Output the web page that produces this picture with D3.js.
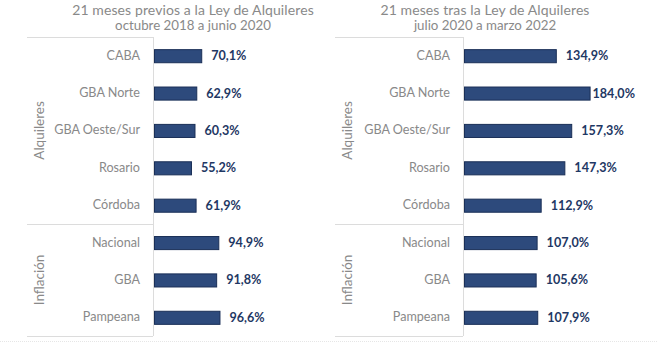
<!DOCTYPE html>
<html>
<head>
<meta charset="utf-8">
<script src="https://cdn.jsdelivr.net/npm/d3@7"></script>
<style>
  html, body { margin: 0; padding: 0; background: #ffffff; }
  svg { display: block; }
  text { font-family: Lato, "Open Sans", sans-serif; }
</style>
</head>
<body>
<svg id="chart" width="658" height="342"></svg>
<script>
const categories = ["CABA", "GBA Norte", "GBA Oeste/Sur", "Rosario", "Córdoba", "Nacional", "GBA", "Pampeana"];
const groupNames = ["Alquileres", "Inflación"];
const groupOfCategory = ["Alquileres", "Alquileres", "Alquileres", "Alquileres", "Alquileres", "Inflación", "Inflación", "Inflación"];
const valuesBefore = [70.1, 62.9, 60.3, 55.2, 61.9, 94.9, 91.8, 96.6];
const valuesAfter = [134.9, 184.0, 157.3, 147.3, 112.9, 107.0, 105.6, 107.9];
const titles = ["21 meses previos a la Ley de Alquileres", "21 meses tras la Ley de Alquileres"];
const subtitles = ["octubre 2018 a junio 2020", "julio 2020 a marzo 2022"];
const xDomain = [0, 250];

const svg = d3.select("#chart");
const fmt = v => d3.format(".1f")(v).replace(".", ",") + "%";
const grey = "#898989";

const panels = [
  { values: valuesBefore, title: titles[0], subtitle: subtitles[0], left: 27, axisX: 153, titleX: 193 },
  { values: valuesAfter,  title: titles[1], subtitle: subtitles[1], left: 335, axisX: 463, titleX: 485 }
];

const plotTop = 37, plotBottom = 336, plotW = 172;

const y = d3.scaleBand().domain(categories).range([plotTop, plotBottom]).paddingInner(0.65).paddingOuter(0.325);

panels.forEach(p => {
  const g = svg.append("g");
  const x = d3.scaleLinear().domain(xDomain).range([p.axisX, p.axisX + plotW]);

  g.append("text").attr("x", p.titleX).attr("y", 15).attr("text-anchor", "middle")
    .attr("fill", grey).style("font-size", "14px").style("letter-spacing", "0.1px").text(p.title);
  g.append("text").attr("x", p.titleX).attr("y", 30).attr("text-anchor", "middle")
    .attr("fill", grey).style("font-size", "13.3px").text(p.subtitle);

  // group boundary lines
  const lastOf = groupNames.map(gn => categories[groupOfCategory.lastIndexOf(gn)]);
  const bounds = [plotTop];
  groupNames.forEach((gn, i) => bounds.push(y(lastOf[i]) + y.bandwidth() + y.step() * y.paddingInner() / 2));
  bounds[bounds.length - 1] = plotBottom;
  bounds.forEach(b => {
    g.append("line").attr("x1", p.left).attr("x2", p.axisX).attr("y1", Math.round(b) + 0.5).attr("y2", Math.round(b) + 0.5)
      .attr("stroke", "#dcdcdc").attr("stroke-width", 1);
  });

  // group labels
  groupNames.forEach((gn, i) => {
    const cy = (bounds[i] + bounds[i + 1]) / 2;
    g.append("text").attr("transform", `translate(${p.left + 17},${cy}) rotate(-90)`)
      .attr("text-anchor", "middle").attr("fill", grey).style("font-size", "13.5px").text(gn);
  });

  // category axis
  const axis = d3.axisLeft(y).tickSize(0).tickPadding(13);
  const ag = g.append("g").attr("transform", `translate(${p.axisX},0)`).call(axis);
  ag.select(".domain").remove();
  ag.selectAll("text").attr("fill", grey).style("font-size", "12.6px").style("font-family", "Lato, sans-serif");
  g.append("line").attr("x1", p.axisX + 0.5).attr("x2", p.axisX + 0.5).attr("y1", plotTop).attr("y2", plotBottom)
    .attr("stroke", "#dcdcdc");

  // bars
  g.selectAll("rect.bar").data(categories).enter().append("rect")
    .attr("x", x(0) + 1.5)
    .attr("y", c => y(c) + 0.5)
    .attr("width", (c, i) => x(p.values[i]) - x(0) - 1)
    .attr("height", y.bandwidth())
    .attr("fill", "#2d4a7c").attr("stroke", "#1a2f57").attr("stroke-width", 1);

  // value labels
  g.selectAll("text.val").data(categories).enter().append("text")
    .attr("class", "val")
    .attr("y", c => y(c) + y.bandwidth() / 2)
    .attr("dy", "0.36em")
    .attr("fill", "#1f3864").style("font-size", "12.6px").style("font-weight", "bold")
    .text((c, i) => fmt(p.values[i]))
    .attr("x", function(c, i) {
      const w = this.getComputedTextLength();
      const end = x(p.values[i]);
      return Math.min(end + 10, x.range()[1] - w);
    });
});

svg.append("line").attr("x1", 0).attr("x2", 658).attr("y1", 341.5).attr("y2", 341.5)
  .attr("stroke", "#e6e6e6").attr("stroke-dasharray", "1,1");
</script>
</body>
</html>
